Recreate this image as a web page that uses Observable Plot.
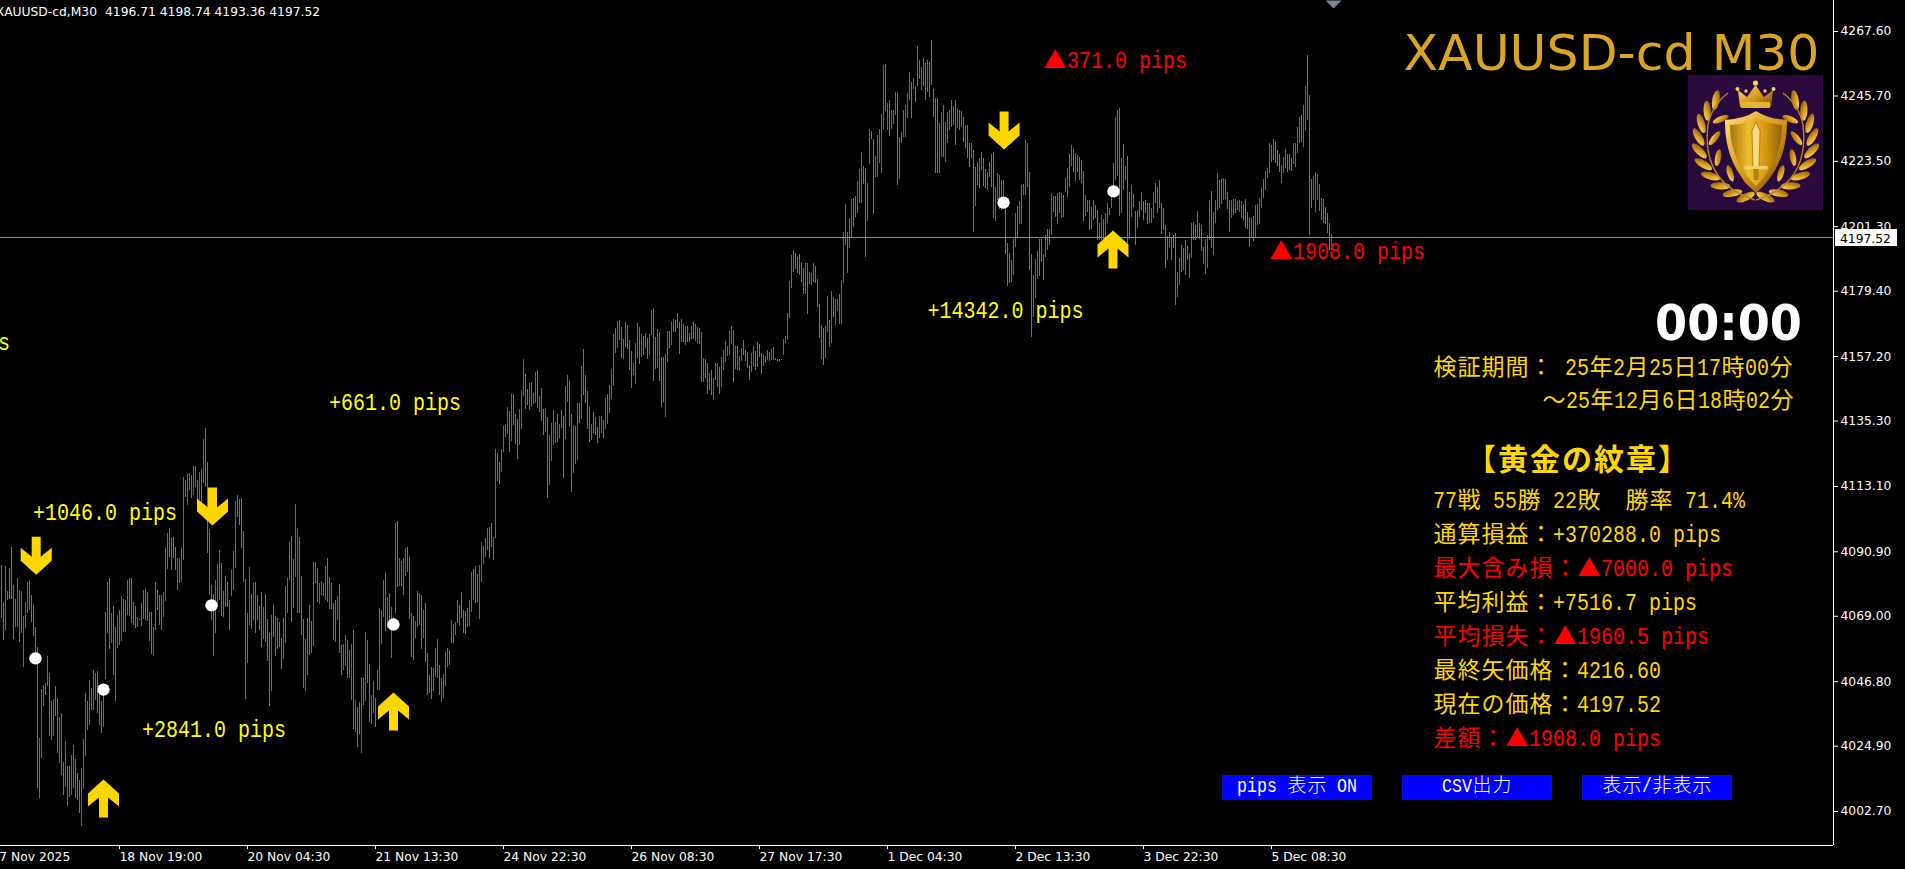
<!DOCTYPE html>
<html><head><meta charset="utf-8">
<style>html,body{margin:0;padding:0;background:#000;overflow:hidden}svg{display:block}</style>
<script src="https://cdn.jsdelivr.net/npm/d3@7"></script>
<script src="https://cdn.jsdelivr.net/npm/@observablehq/plot@0.6"></script>
</head><body><div id="chart"></div>
<script>
// [high, low, direction] 1 = bull, 0 = bear, 2 = doji
const barsNov17 = [[4086.2,4068.1,0],[4073.8,4060.8,0],[4085.9,4064.2,1],[4077.5,4074.4,0],[4085.1,4074.7,0],[4092.5,4074.6,0],[4079.5,4061.0,0],[4074.7,4065.3,1],[4081.7,4065.3,1],[4077.8,4060.2,0],
[4077.4,4063.0,0],[4068.9,4051.7,1],[4073.8,4065.0,1],[4080.6,4069.8,1],[4081.2,4071.0,0],[4076.0,4067.0,0],[4072.7,4062.1,0],[4065.1,4055.1,0],[4058.3,4010.6,0],[4027.4,4007.0,1],
[4044.0,4020.6,1],[4045.5,4038.4,1],[4046.1,4042.1,0],[4055.3,4045.2,1],[4049.5,4028.2,0],[4040.0,4026.8,0],[4040.9,4028.2,1],[4045.2,4035.0,0],[4041.2,4022.5,0],[4034.7,4019.1,1],
[4035.9,4014.9,0],[4019.5,4008.1,0],[4026.5,4011.0,1],[4018.0,4004.4,1],[4018.0,4007.6,0],[4021.7,4008.1,1],[4025.1,4010.4,1],[4020.4,4007.0,0],[4015.5,4006.4,0],[4013.2,4002.1,0],
[4017.2,3997.7,1],[4027.2,4010.1,1],[4042.7,4021.4,1],[4040.0,4030.2,0],[4047.2,4031.9,1],[4044.4,4037.0,0],[4050.6,4037.0,1],[4049.5,4040.4,1],[4050.4,4035.9,0],[4042.9,4031.9,0],
[4040.0,4029.1,0],[4042.1,4031.1,1],[4070.4,4047.4,1],[4080.6,4063.0,1],[4081.7,4057.6,0],[4069.8,4059.6,1],[4072.3,4048.9,0],[4065.3,4040.2,1],[4069.3,4058.0,1],[4071.0,4059.1,0],
[4075.7,4060.5,1],[4074.6,4063.6,0],[4074.4,4063.6,1],[4081.2,4069.3,1],[4082.0,4068.9,0],[4082.0,4066.4,0],[4073.8,4065.9,0],[4072.3,4064.7,0],[4068.5,4065.1,1],[4067.9,4067.7,2],
[4073.2,4065.5,1],[4077.8,4067.8,1],[4078.2,4067.6,0],[4077.2,4067.3,0],[4070.4,4060.5,0],[4070.4,4056.0,0],[4065.1,4055.3,1],[4080.6,4064.2,1],[4077.8,4071.0,0],[4076.0,4065.9,0],
[4076.0,4064.2,1],[4077.2,4068.7,1],[4091.9,4074.0,1],[4097.2,4084.8,1],[4098.7,4089.1,0],[4095.3,4084.5,0],[4095.9,4088.5,0],[4092.5,4084.5,0],[4088.5,4077.8,1],[4088.5,4080.2,0],
[4091.9,4080.6,1],[4116.0,4088.0,1],[4115.1,4109.5,0],[4117.1,4106.6,1],[4117.6,4111.7,1],[4116.8,4108.9,0],[4119.9,4110.0,1],[4120.0,4112.8,1],[4115.1,4107.2,0],[4117.9,4108.3,1]];
const barsNov19 = [[4118.7,4104.9,0],[4128.9,4114.0,1],[4132.7,4112.9,0],[4121.3,4090.2,0],[4098.5,4076.1,0],[4079.5,4067.6,1],[4076.4,4055.3,0],[4081.2,4063.0,1],[4086.6,4072.1,1],[4091.3,4074.4,1],
[4086.8,4068.9,0],[4077.4,4068.7,1],[4082.5,4072.1,0],[4080.4,4072.1,0],[4074.4,4064.2,1],[4084.5,4075.8,1],[4091.0,4077.8,1],[4108.0,4085.3,1],[4110.0,4102.7,0],[4108.7,4099.8,0],
[4108.9,4091.9,0],[4097.8,4080.6,0],[4081.4,4040.7,0],[4070.1,4053.1,1],[4085.6,4065.9,1],[4076.4,4064.5,0],[4080.2,4067.6,1],[4080.4,4063.0,0],[4076.1,4067.6,0],[4072.3,4064.2,0],
[4077.2,4058.5,0],[4072.1,4061.0,1],[4076.4,4060.0,0],[4067.8,4053.8,0],[4063.0,4038.5,0],[4069.3,4043.6,1],[4072.7,4061.7,0],[4068.9,4055.5,1],[4068.1,4057.7,0],[4067.0,4058.3,0],
[4061.3,4050.9,0],[4068.1,4054.3,1],[4079.1,4059.9,1],[4081.7,4069.8,1],[4094.2,4081.2,1],[4096.1,4067.0,0],[4088.3,4071.8,1],[4107.0,4082.3,1],[4098.9,4070.1,1],[4095.9,4070.1,0],
[4082.5,4062.5,0],[4067.9,4044.6,0],[4061.1,4043.6,1],[4068.4,4048.9,0],[4072.7,4055.7,0],[4067.2,4056.5,0],[4087.2,4058.7,1],[4087.4,4080.0,1],[4085.3,4073.8,0],[4080.2,4073.0,1],
[4080.8,4076.1,1],[4080.2,4075.8,0],[4085.9,4074.4,1],[4088.5,4073.8,0],[4082.3,4071.2,1],[4080.0,4071.2,0],[4073.2,4060.8,0],[4074.4,4060.2,1],[4075.8,4067.6,1],[4079.8,4056.5,0],
[4059.1,4048.9,0],[4059.3,4050.6,1],[4062.5,4052.1,1],[4060.8,4047.8,0],[4057.4,4047.8,1],[4059.4,4040.4,1],[4064.2,4030.4,0],[4040.4,4029.6,1],[4037.9,4024.3,0],[4039.6,4028.9,0],
[4048.3,4022.3,1],[4047.8,4038.7,0],[4063.4,4040.1,1],[4060.8,4046.1,0],[4052.5,4033.0,0],[4042.1,4032.3,1],[4046.9,4036.1,1],[4041.0,4031.1,0],[4050.6,4043.8,1],[4071.5,4043.8,1],
[4071.0,4059.4,1],[4081.2,4068.7,1],[4083.6,4063.9,0],[4075.5,4064.7,1],[4076.8,4067.6,0],[4072.1,4054.8,1],[4068.7,4064.2,1],[4100.4,4069.8,1],[4101.2,4078.9,0],[4088.5,4079.2,1],
[4087.6,4079.2,0],[4088.5,4076.1,1],[4091.9,4082.6,1],[4092.5,4084.0,0],[4088.8,4067.9,0],[4069.8,4055.1,0],[4068.9,4054.0,0],[4067.2,4061.3,1],[4077.4,4065.3,1],[4076.9,4065.9,1],
[4076.1,4057.6,0],[4071.0,4061.3,1],[4073.5,4053.4,0],[4056.5,4042.1,0],[4048.9,4042.9,1],[4051.7,4040.6,0],[4051.2,4043.6,1],[4057.9,4048.1,1],[4061.1,4047.8,1],[4052.3,4042.1,0],
[4047.8,4039.8,1],[4049.2,4041.2,0],[4056.8,4045.3,1],[4057.9,4051.5,1],[4057.4,4052.3,0],[4067.6,4059.9,1],[4066.2,4059.6,1],[4067.0,4062.5,1],[4074.4,4066.4,1],[4072.7,4065.6,1],
[4077.0,4068.3,0],[4071.0,4063.0,0],[4070.7,4062.8,0],[4071.5,4065.3,1],[4074.4,4065.5,1],[4083.8,4070.4,1],[4084.9,4074.4,1],[4085.9,4073.5,0],[4083.1,4073.8,0],[4086.2,4067.9,1],
[4093.9,4080.6,1],[4092.7,4086.6,1],[4095.3,4089.1,1],[4098.7,4091.3,1],[4099.3,4088.5,0],[4100.4,4092.5,0],[4095.9,4087.9,1]];
const barsNov24 = [[4125.6,4095.4,1],[4124.2,4114.8,0],[4121.3,4113.8,0],[4125.6,4118.0,1],[4133.5,4124.7,1],[4133.8,4129.8,0],[4139.8,4130.7,1],[4138.5,4124.7,0],[4144.3,4128.5,1],[4144.3,4133.8,0],
[4137.5,4127.3,0],[4135.8,4122.2,0],[4139.1,4127.0,1],[4145.7,4132.4,1],[4156.2,4143.6,1],[4151.1,4139.2,0],[4146.0,4140.6,0],[4148.2,4138.9,1],[4148.4,4140.0,0],[4144.8,4140.8,1],
[4151.8,4141.2,1],[4152.5,4139.5,0],[4143.6,4138.3,1],[4146.2,4135.3,0],[4139.1,4130.4,0],[4139.5,4131.5,1],[4136.4,4109.1,0],[4130.4,4113.4,1],[4134.6,4121.7,1],[4138.9,4127.0,1],
[4134.7,4127.6,1],[4137.5,4128.1,1],[4134.1,4129.3,1],[4138.9,4132.7,0],[4136.8,4115.9,0],[4147.0,4129.0,1],[4150.8,4141.7,1],[4148.7,4133.2,0],[4137.5,4111.2,0],[4133.8,4117.6,1],
[4133.4,4120.6,0],[4141.4,4121.9,1],[4141.2,4134.6,0],[4153.8,4135.8,1],[4159.6,4144.0,0],[4150.8,4141.4,0],[4145.3,4132.4,0],[4140.0,4128.1,0],[4134.1,4128.7,1],[4138.2,4131.0,0],
[4136.4,4130.4,0],[4133.0,4127.8,0],[4136.8,4129.3,1],[4136.8,4131.2,1],[4135.5,4129.5,0],[4142.8,4132.4,1],[4144.3,4134.1,1],[4147.4,4138.0,1],[4152.8,4142.6,1],[4164.7,4147.2,1],
[4166.7,4158.1,0],[4169.1,4159.8,1],[4169.5,4162.7,1],[4167.2,4156.7,0],[4163.0,4156.2,1],[4168.8,4160.4,1],[4167.8,4159.6,0],[4162.7,4152.5,0],[4158.9,4146.5,0],[4155.0,4150.8,1],
[4161.5,4147.6,1],[4168.6,4156.6,1],[4167.2,4154.5,0],[4164.6,4156.8,1],[4164.0,4157.6,0],[4165.2,4159.8,1],[4163.3,4156.1,0],[4164.7,4157.6,1],[4172.8,4164.4,1],[4173.4,4148.7,0],
[4163.8,4152.8,0],[4166.3,4153.0,1],[4165.4,4148.8,0],[4156.9,4140.0,0],[4157.0,4141.5,0],[4157.9,4136.6,1],[4165.8,4155.2,1],[4165.7,4159.9,0],[4168.9,4161.0,1],[4169.8,4165.4,1],
[4169.5,4165.5,0],[4171.7,4166.6,1],[4168.8,4158.0,0],[4169.8,4161.9,1],[4168.0,4162.1,0],[4167.4,4161.1,1],[4167.4,4161.9,0],[4165.2,4162.1,0],[4167.4,4162.9,0],[4168.9,4162.9,0],
[4168.1,4162.3,1],[4167.2,4161.5,1],[4166.8,4161.3,0],[4165.4,4148.5,0],[4156.5,4148.5,1],[4156.1,4149.6,0],[4154.7,4144.3,0],[4151.3,4145.7,1],[4152.5,4144.0,0],[4149.9,4142.3,1],
[4154.7,4149.1,1],[4154.7,4146.8,1],[4153.6,4144.3,0],[4157.0,4146.8,1],[4159.3,4152.5,1],[4162.3,4155.3,1],[4160.7,4157.2,1],[4165.8,4157.6,1],[4167.4,4161.3,1],[4166.1,4148.5,0],
[4160.6,4152.7,1],[4160.7,4152.4,0],[4157.2,4152.2,1],[4159.9,4155.5,1],[4162.7,4157.6,0],[4159.3,4155.5,0],[4158.5,4153.3,0],[4154.2,4149.1,0],[4158.1,4151.8,1],[4160.6,4153.6,1],
[4159.0,4152.5,0],[4162.0,4153.6,1],[4161.3,4157.0,0],[4158.1,4151.1,0],[4157.6,4153.9,1],[4157.2,4155.0,1],[4159.3,4155.9,1],[4158.6,4155.6,0],[4159.6,4155.9,1],[4160.3,4155.9,0],
[4156.4,4155.9,1],[4156.2,4155.5,2],[4156.2,4155.5,2],[4156.2,4155.9,2],[4163.0,4157.6,1],[4164.0,4161.8,1],[4171.9,4162.7,1],[4182.7,4170.2,1],[4191.5,4180.4,1],[4193.2,4185.9,1],
[4192.1,4186.8,0],[4191.0,4185.5,0],[4191.8,4184.8,0],[4189.2,4182.5,0],[4187.0,4178.3,0],[4188.7,4178.3,1],[4188.7,4171.5,0],[4185.8,4181.7,0],[4185.5,4181.3,1],[4188.7,4182.5,1],
[4187.8,4181.9,0],[4183.4,4174.0,0],[4174.9,4163.4,0],[4167.8,4156.2,0],[4166.6,4154.2,0],[4167.4,4156.7,1],[4177.6,4165.5,1],[4169.5,4160.4,0]];
const barsDec1 = [[4179.3,4161.8,1],[4177.4,4170.4,0],[4176.7,4167.8,1],[4176.5,4172.5,1],[4178.3,4168.1,0],[4183.0,4168.1,1],[4199.4,4182.1,1],[4208.8,4194.9,1],[4199.4,4185.5,0],[4204.0,4194.0,1],
[4210.5,4197.5,1],[4211.0,4201.2,0],[4211.6,4204.3,0],[4216.7,4205.9,1],[4220.6,4209.1,1],[4226.5,4209.3,1],[4221.8,4215.6,0],[4221.2,4191.0,0],[4215.9,4203.2,1],[4234.3,4222.4,1],
[4233.6,4230.8,0],[4230.9,4205.3,0],[4225.1,4218.1,1],[4232.3,4218.1,1],[4234.2,4222.7,1],[4239.4,4219.3,1],[4256.1,4234.2,1],[4256.4,4240.4,0],[4243.3,4234.0,1],[4244.2,4231.9,0],
[4240.8,4234.2,1],[4240.8,4236.0,0],[4247.0,4239.1,1],[4246.4,4215.3,0],[4231.7,4217.3,1],[4233.4,4229.5,1],[4240.8,4231.7,1],[4242.5,4231.7,1],[4246.7,4237.9,1],[4253.8,4244.2,1],
[4250.4,4237.9,0],[4251.5,4247.8,1],[4248.9,4243.6,0],[4262.5,4248.9,1],[4257.8,4251.2,1],[4255.3,4247.6,1],[4258.4,4248.9,1],[4256.6,4244.2,0],[4257.8,4247.0,1],[4257.2,4245.3,0],
[4264.5,4249.3,0],[4247.8,4238.3,0],[4244.7,4219.3,0],[4244.7,4219.3,0],[4236.5,4219.3,1],[4240.2,4224.9,1],[4242.5,4224.9,0],[4236.8,4223.2,1],[4240.2,4229.4,0],[4240.8,4234.0,1],
[4244.2,4235.1,0],[4242.1,4235.7,1],[4244.2,4228.9,0],[4241.3,4234.5,1],[4240.8,4234.0,0],[4240.4,4235.1,1],[4238.3,4230.0,0],[4235.7,4227.7,1],[4235.7,4224.4,0],[4229.7,4221.3,0],
[4229.4,4224.4,1],[4227.2,4199.4,0],[4221.3,4208.3,1],[4223.0,4215.3,0],[4224.4,4214.2,1],[4226.6,4220.4,1],[4224.4,4215.0,0],[4220.6,4214.4,0],[4219.6,4213.6,1],[4223.2,4218.1,0],
[4225.8,4214.7,0],[4226.4,4204.2,0],[4214.7,4203.2,1],[4219.3,4210.2,1],[4218.7,4207.0,0],[4217.0,4206.8,1],[4217.0,4207.0,1],[4210.2,4191.9,0],[4195.5,4181.1,0],[4192.1,4182.1,0],
[4189.8,4182.5,0],[4196.8,4184.7,1],[4205.9,4194.4,1],[4208.3,4197.8,0],[4209.9,4202.0,1],[4215.3,4202.0,0],[4215.6,4211.9,1],[4230.6,4211.9,1],[4229.4,4214.7,0],[4219.6,4186.4,0],
[4191.9,4163.6,0],[4184.7,4170.4,1],[4190.1,4176.8,1],[4192.9,4183.3,1],[4196.8,4184.4,0],[4196.8,4189.3,0],[4191.9,4183.0,0],[4198.3,4191.0,1],[4200.2,4193.2,0],[4200.2,4194.9,1],
[4212.5,4198.3,1],[4211.7,4206.2,0],[4211.7,4204.5,0],[4212.7,4202.0,1],[4213.0,4205.7,0],[4212.7,4204.0,1],[4211.9,4204.3,0],[4217.8,4212.8,1],[4221.0,4211.3,1],[4225.7,4214.5,0],
[4228.9,4221.9,1],[4227.4,4219.8,0],[4226.0,4216.8,1],[4225.5,4219.8,0],[4224.9,4217.0,0]];
const barsDec3 = [[4223.8,4215.9,0],[4220.1,4203.2,0],[4211.9,4204.8,1],[4210.2,4206.3,0],[4210.2,4200.0,0],[4208.0,4200.2,1],[4210.2,4203.4,0],[4208.5,4204.0,0],[4206.8,4196.6,0],[4202.5,4196.6,1],
[4205.1,4196.6,1],[4203.6,4196.6,0],[4205.7,4197.8,1],[4209.1,4202.3,1],[4207.4,4205.1,0],[4211.3,4207.6,1],[4222.7,4214.7,1],[4238.3,4217.0,1],[4240.8,4218.4,0],[4241.3,4204.9,0],
[4224.4,4205.9,1],[4229.2,4213.6,0],[4221.8,4217.0,1],[4225.2,4195.7,0],[4212.9,4196.9,1],[4215.3,4204.6,1],[4212.1,4207.9,0],[4206.6,4195.0,0],[4206.8,4200.6,1],[4209.9,4204.6,1],
[4212.8,4206.8,1],[4210.0,4203.4,0],[4210.2,4205.7,1],[4209.3,4202.0,0],[4209.1,4202.5,0],[4207.6,4202.3,1],[4212.8,4204.0,1],[4215.9,4209.3,0],[4214.7,4205.7,1],[4217.0,4207.4,0],
[4209.1,4198.7,0],[4207.6,4200.0,0],[4201.7,4187.2,0],[4198.0,4189.8,1],[4199.2,4194.4,1],[4197.8,4189.8,0],[4198.3,4193.8,0],[4199.1,4174.6,0],[4185.9,4177.4,1],[4190.6,4181.3,1],
[4195.0,4185.9,0],[4194.0,4186.4,1],[4196.6,4184.7,0],[4194.6,4189.8,0],[4192.1,4183.6,1],[4202.5,4190.4,1],[4202.9,4196.6,0],[4201.7,4196.6,0],[4206.5,4197.2,1],[4202.5,4196.9,0],
[4201.7,4193.0,0],[4194.4,4188.5,0],[4197.0,4185.1,1],[4198.3,4187.0,1],[4210.2,4196.6,1],[4213.3,4193.8,0],[4206.3,4191.5,1],[4210.2,4202.3,1],[4219.3,4206.8,1],[4217.0,4207.4,0],
[4217.2,4208.7,0],[4217.8,4210.2,1],[4217.3,4210.4,0],[4213.0,4207.2,0],[4210.2,4199.4,0],[4210.2,4204.0,1],[4210.4,4205.1,0],[4210.6,4205.7,1],[4209.9,4206.8,0],[4210.2,4206.3,1],
[4210.0,4204.0,1],[4208.9,4203.4,0],[4210.6,4200.6,0],[4206.3,4200.2,0],[4204.6,4194.4,0],[4204.2,4197.2,1],[4204.9,4196.3,0],[4208.5,4197.8,1],[4208.9,4201.7,0],[4210.8,4202.1,1],
[4214.2,4207.4,1],[4217.2,4210.8,1],[4220.1,4213.6,1],[4221.0,4217.6,1],[4229.5,4219.3,1],[4228.9,4223.2,0],[4230.9,4223.8,1],[4230.0,4222.7,0],[4227.2,4221.8,0],[4225.8,4219.8,0],
[4222.1,4215.9,1],[4224.9,4219.3,1],[4227.4,4221.0,1],[4225.7,4219.8,0],[4225.7,4220.4,0],[4224.4,4220.2,0],[4229.5,4222.4,1],[4229.5,4221.3,1],[4234.9,4226.1,1],[4238.3,4229.5,1],
[4239.1,4230.0,0],[4242.5,4228.1,1],[4248.9,4234.0,1],[4259.5,4237.4,0],[4245.9,4198.3,0],[4217.3,4207.4,0],[4218.5,4210.2,1],[4219.6,4206.3,1],[4219.0,4210.2,1],[4215.6,4206.6,0],
[4210.8,4203.4,1],[4210.4,4202.5,0],[4208.0,4202.1,0],[4205.7,4198.9,0],[4202.5,4193.2,0],[4198.74,4193.36,1]];

const priceTicks = [4267.6,4245.7,4223.5,4201.3,4179.4,4157.2,4135.3,4113.1,4090.9,4069.0,4046.8,4024.9,4002.7];
const timeTickBars = [-5,59,123,187,251,315,379,443,507,571,635];
const timeTickLabels = ["17 Nov 2025","18 Nov 19:00","20 Nov 04:30","21 Nov 13:30","24 Nov 22:30","26 Nov 08:30","27 Nov 17:30","1 Dec 04:30","2 Dec 13:30","3 Dec 22:30","5 Dec 08:30"];
const lastPrice = 4197.52;
const sellArrows = [[17.35,4089.6],[105.5,4106.3],[501.3,4234.0]];
const buyArrows = [[51,4007.1],[196,4036.7],[555.75,4193.6]];
const exitDots = [[17,4054.7],[51,4044.1],[105,4072.7],[196,4066.2],[501,4209.5],[556,4213.3]];
const pipLabels = [[16,4101.5,"+1046.0 pips","#ffff00"],[70.5,4027.8,"+2841.0 pips","#ffff00"],[164,4138.9,"+661.0 pips","#ffff00"],[463.25,4170.1,"+14342.0 pips","#ffff00"],[521,4255.0,"▲371.0 pips","#ff0000"],[634,4190.2,"▲1908.0 pips","#ff0000"],[-1.5,4159.3,"s","#ffff00"]];
const panelLines = [["検証期間： 25年2月25日17時00分",1433,375,"#ffd700"],["～25年12月6日18時02分",1542,408,"#ffd700"],
["77戦 55勝 22敗　勝率 71.4%",1433,508,"#ffd700"],["通算損益：+370288.0 pips",1433,542,"#ffd700"],["最大含み損：▲7000.0 pips",1433,576,"#ff0000"],["平均利益：+7516.7 pips",1433,610,"#ffd700"],["平均損失：▲1960.5 pips",1433,644,"#ff0000"],["最終矢価格：4216.60",1433,678,"#ffd700"],["現在の価格：4197.52",1433,712,"#ffd700"],["差額：▲1908.0 pips",1433,746,"#ff0000"]];
const buttons = [["pips 表示 ON",1222],["CSV出力",1402],["表示/非表示",1582]];

const candles = [...barsNov17,...barsNov19,...barsNov24,...barsDec1,...barsDec3].map((d,i)=>({i,high:d[0],low:d[1],dir:d[2]}));
const candleColor = d => d.dir===1 ? "#4169e1" : d.dir===0 ? "#ff4500" : "#00e000";
const shape = pts => ({draw(c){pts.forEach((p,k)=>k?c.lineTo(p[0],p[1]):c.moveTo(p[0],p[1]));c.closePath();}});
const downArrow = shape([[-4.5,-19],[4.5,-19],[4.5,1],[15.5,-8],[15.5,5],[0,19],[-15.5,5],[-15.5,-8],[-4.5,1]]);
const upArrow = shape([[-4.5,19],[4.5,19],[4.5,-1],[15.5,8],[15.5,-5],[0,-19],[-15.5,-5],[-15.5,8],[-4.5,-1]]);
const shiftMark = shape([[-8,0],[8,0],[0,8]]);
const yTop = 4278.13, yBottom = 3991.16, xLeft = -0.5, xRight = 916;

const chart = Plot.plot({
  width:1905,height:869,marginTop:0,marginRight:72,marginBottom:24,marginLeft:0,
  style:{background:"#000",color:"#fff",fontFamily:"'DejaVu Sans'",fontSize:"12.3px"},
  x:{domain:[xLeft,xRight]},y:{domain:[yBottom,yTop]},color:{type:"identity"},
  marks:[
    Plot.ruleX(candles,{x:"i",y1:"low",y2:"high",stroke:candleColor,strokeWidth:1,shapeRendering:"crispEdges"}),
    Plot.ruleY([lastPrice],{stroke:"#8392a3",strokeWidth:1,shapeRendering:"crispEdges"}),
    Plot.dot(sellArrows,{x:d=>d[0],y:d=>d[1],symbol:downArrow,r:10,fill:"#ffd700",stroke:null}),
    Plot.dot(buyArrows,{x:d=>d[0],y:d=>d[1],symbol:upArrow,r:10,fill:"#ffd700",stroke:null}),
    Plot.dot(exitDots,{x:d=>d[0],y:d=>d[1],r:6.2,fill:"#fff",stroke:null}),
    Plot.dot([[666,yTop]],{x:d=>d[0],y:d=>d[1],symbol:shiftMark,r:8,fill:"#778899",stroke:null}),
    Plot.ruleY([yBottom],{stroke:"#fff",strokeWidth:1}),
    Plot.ruleX([xRight],{stroke:"#fff",strokeWidth:1}),
    Plot.axisY({anchor:"right",ticks:priceTicks,tickFormat:d=>d.toFixed(2),tickSize:4,tickPadding:3,label:null}),
    Plot.axisX({anchor:"bottom",ticks:timeTickBars,tickFormat:d=>timeTickLabels[timeTickBars.indexOf(d)],tickSize:4,tickPadding:3,textAnchor:"start",label:null})
  ]
});
document.getElementById("chart").append(chart);

const svg = d3.select(chart);
const fx = chart.scale("x").apply, fy = chart.scale("y").apply;
const isWide = c => /[\u2E80-\uFFEF\u25B2]/.test(c);
function gridText(root,str,x0,base,fill,o={}){
  const half=o.half||12,cjk=o.cjk||23,latin=o.latin||24,weight=o.weight||400;
  let x=x0,run="",wide=false;
  const flush=()=>{ if(!run) return;
    const n=run.length;
    const t=root.append("text").attr("y",base).attr("fill",fill).text(run);
    if(wide){ t.attr("x",x+(half*2-cjk)/2).attr("font-family","'Noto Sans CJK JP'").attr("font-size",cjk).attr("font-weight",weight)
      .attr("textLength",n*half*2-(half*2-cjk)).attr("lengthAdjust","spacing"); x+=n*half*2; }
    else { t.attr("x",x).attr("font-family","'Liberation Mono'").attr("font-size",latin)
      .attr("textLength",n*half).attr("lengthAdjust","spacingAndGlyphs"); x+=n*half; }
    run=""; };
  for(const c of str){
    if(c===" "){flush();x+=half;continue;}
    if(c==="\u3000"){flush();x+=half*2;continue;}
    const w=isWide(c);
    if(run&&w!==wide) flush();
    wide=w; run+=c;
  }
  flush();
}
const overlay = svg.append("g").attr("text-anchor","start");
pipLabels.forEach(d=>gridText(overlay,d[2],fx(d[0]),fy(d[1]),d[3]));
panelLines.forEach(d=>gridText(overlay,d[0],d[1],d[2],d[3]));
gridText(overlay,"【黄金の紋章】",1465,470,"#ffd700",{half:16,cjk:30,weight:700});

// header
overlay.append("text").attr("x",97).attr("y",16).attr("text-anchor","end").attr("fill","#fff").attr("font-family","'DejaVu Sans'").attr("font-size",12.3).text("XAUUSD-cd,M30");
overlay.append("text").attr("x",105).attr("y",16).attr("fill","#fff").attr("font-family","'DejaVu Sans'").attr("font-size",12.3).text("4196.71 4198.74 4193.36 4197.52");
overlay.append("text").attr("x",1403.5).attr("y",70).attr("fill","#daa520").attr("font-family","'DejaVu Sans'").attr("font-size",50).attr("textLength",416).attr("lengthAdjust","spacingAndGlyphs").text("XAUUSD-cd M30");
overlay.append("text").attr("x",1655).attr("y",340).attr("fill","#fff").attr("font-family","'DejaVu Sans'").attr("font-weight",700).attr("font-size",50).attr("textLength",147).attr("lengthAdjust","spacingAndGlyphs").text("00:00");

// last price tag
overlay.append("rect").attr("x",1835).attr("y",229).attr("width",62).attr("height",17).attr("fill","#fff");
overlay.append("text").attr("x",1840).attr("y",243).attr("fill","#000").attr("font-family","'DejaVu Sans'").attr("font-size",12.3).text(lastPrice.toFixed(2));

// buttons
buttons.forEach(b=>{
  overlay.append("rect").attr("x",b[1]+.5).attr("y",775.5).attr("width",149).attr("height",24).attr("fill","#0000ff").attr("stroke","#0a0ad8");
  const len=[...b[0]].reduce((s,c)=>s+(isWide(c)?20:10),0);
  gridText(overlay,b[0],b[1]+75-len/2,792,"#fff",{half:10,cjk:19,latin:20,weight:300});
});

// emblem
const emb = overlay.append("g").attr("transform","translate(1688,75)");
const defs = `<defs><linearGradient id="gld" x1="0" y1="0" x2="1" y2="1"><stop offset="0" stop-color="#ffe27a"/><stop offset=".5" stop-color="#d79a1c"/><stop offset="1" stop-color="#7a4f08"/></linearGradient>
<linearGradient id="shd" x1="0" y1="0" x2="1" y2="0"><stop offset="0" stop-color="#a8730f"/><stop offset=".35" stop-color="#f2bd2c"/><stop offset=".7" stop-color="#d6950f"/><stop offset="1" stop-color="#8f5f0a"/></linearGradient></defs>`;
const leafAngles = [100,114,128,142,156,170,184,198,212,226];
let side = "";
leafAngles.forEach((a,k)=>{
  const rad=a*Math.PI/180, cx=67.5, cy=66;
  const ox=cx+57*Math.cos(rad), oy=cy+57*Math.sin(rad), ix=cx+41*Math.cos(rad), iy=cy+41*Math.sin(rad);
  side+=`<ellipse cx="${ox}" cy="${oy}" rx="10" ry="3.6" transform="rotate(${a+55} ${ox} ${oy})" fill="url(#gld)"/>`;
  if(k%2===0) side+=`<ellipse cx="${ix}" cy="${iy}" rx="8.5" ry="3" transform="rotate(${a+125} ${ix} ${iy})" fill="url(#gld)"/>`;
});
side+=`<path d="M67,125 Q13,108 20,50 Q24,30 40,18" fill="none" stroke="#b9851a" stroke-width="1.4"/>`;
emb.html(defs+`<rect width="135" height="135" fill="#2a0a3e"/>
<g>${side}</g><g transform="translate(135,0) scale(-1,1)">${side}</g>
<path d="M68,36 Q80,44 99,45 Q100,90 68,118 Q36,90 37,45 Q56,44 68,36Z" fill="url(#gld)"/>
<path d="M68,42 Q79,49 94,50 Q94,86 68,111 Q42,86 42,50 Q57,49 68,42Z" fill="url(#shd)"/>
<path d="M68,47 L72,56 L71,92 L65,92 L64,56Z" fill="#f7dd80" stroke="#8a5c0a" stroke-width=".6"/>
<rect x="56" y="91" width="24" height="3.5" rx="1.5" fill="#f0ce68"/><rect x="65.5" y="94" width="5" height="11" fill="#b47f14"/>
<path d="M52,32 L50,15 L59,22 L67.5,10 L76,22 L85,15 L83,32Z" fill="url(#gld)"/><rect x="53" y="27" width="29" height="6" rx="1" fill="#e7b535"/>
<circle cx="67.5" cy="8" r="2.6" fill="#f3cf5c"/><circle cx="49.5" cy="14" r="2" fill="#f3cf5c"/><circle cx="85.5" cy="14" r="2" fill="#f3cf5c"/><circle cx="58" cy="16" r="1.7" fill="#f3cf5c"/><circle cx="77" cy="16" r="1.7" fill="#f3cf5c"/>`);
</script></body></html>
